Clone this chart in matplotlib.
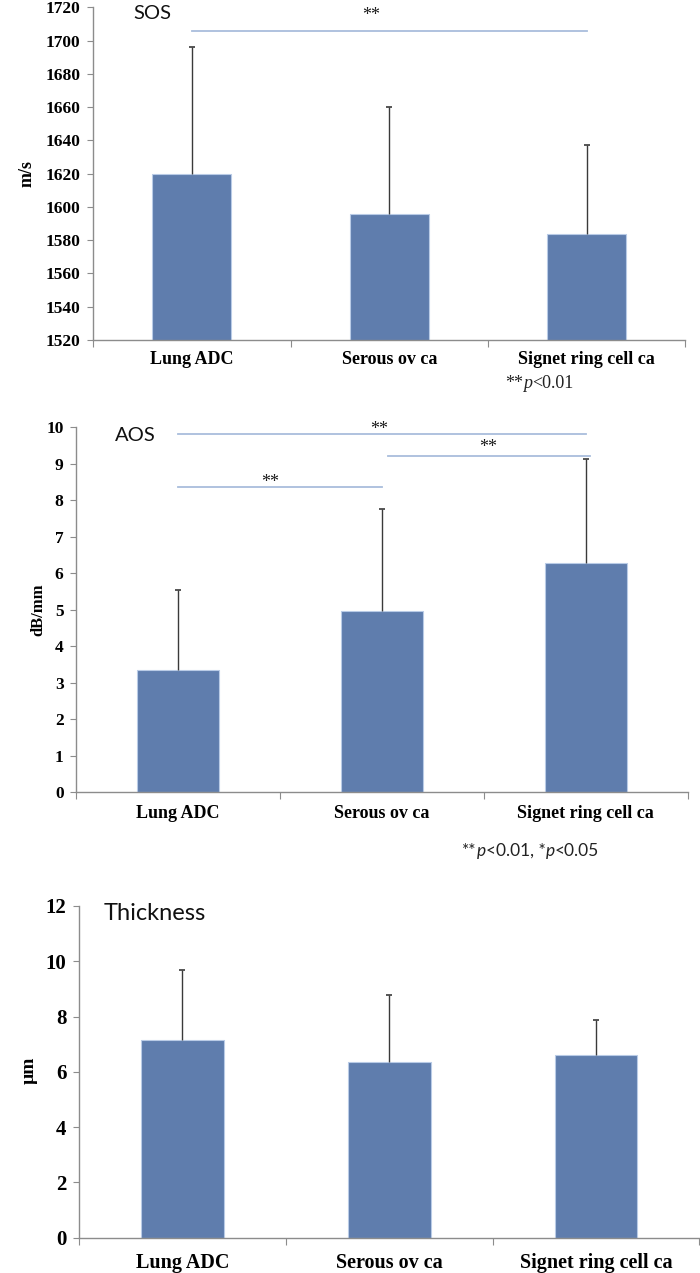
"""
Three stacked bar charts (SOS, AOS, Thickness) with one-sided SD error bars
and significance brackets.
"""

import matplotlib
matplotlib.use("Agg")
import matplotlib.pyplot as plt

CATEGORIES = ["Lung ADC", "Serous ov ca", "Signet ring cell ca"]

SOS_MEAN = [1620, 1596, 1584]
SOS_SD = [76, 64, 53]

AOS_MEAN = [3.35, 4.96, 6.27]
AOS_SD = [2.18, 2.80, 2.85]

THK_MEAN = [7.17, 6.35, 6.60]
THK_SD = [2.52, 2.44, 1.29]

# significance brackets: (from category, to category, level)
SOS_SIG = [(0, 2, 1706)]
AOS_SIG = [(0, 2, 9.81), (1.03, 2.02, 9.22), (0, 1.0, 8.37)]

BAR_COLOR = "#5f7dad"
BAR_EDGE = "#b9cbe6"
SIG_COLOR = "#a9bddc"
SPINE_COLOR = "#8c8c8c"
ERR_COLOR = "#3a3a3a"

SERIF = "Liberation Serif"
SANS = "Lato"


def style_axes(ax, ylim, yticks, tick_size, cat_size, cat_pad):
    ax.set_xlim(-0.5, 2.5)
    ax.set_ylim(*ylim)
    for s in ("top", "right"):
        ax.spines[s].set_visible(False)
    for s in ("left", "bottom"):
        ax.spines[s].set_color(SPINE_COLOR)
        ax.spines[s].set_linewidth(1.0)
    ax.set_yticks(yticks)
    ax.set_yticklabels([str(t) for t in yticks], fontfamily=SERIF,
                       fontweight="bold", fontsize=tick_size)
    ax.tick_params(axis="y", length=4, width=0.8, color=SPINE_COLOR, pad=5)
    # separators between categories, labels on minor ticks
    ax.set_xticks([-0.5, 0.5, 1.5, 2.5])
    ax.set_xticklabels([])
    ax.tick_params(axis="x", which="major", length=5, width=0.8,
                   color=SPINE_COLOR)
    ax.set_xticks([0, 1, 2], minor=True)
    ax.set_xticklabels(CATEGORIES, minor=True, fontfamily=SERIF,
                       fontweight="bold", fontsize=cat_size)
    ax.tick_params(axis="x", which="minor", length=0, pad=cat_pad)


def draw_bars(ax, means, sds):
    x = list(range(len(means)))
    tops = [m + s for m, s in zip(means, sds)]
    ax.bar(x, means, width=0.4, color=BAR_COLOR, edgecolor=BAR_EDGE,
           linewidth=0.8, zorder=2)
    # upper whisker only, cap at the top end
    ax.vlines(x, means, tops, color=ERR_COLOR, linewidth=1.0, zorder=3)
    ax.plot(x, tops, linestyle="none", marker="_", markersize=5,
            markeredgewidth=1.2, color=ERR_COLOR, zorder=3)


def draw_sig(ax, sigs):
    for x1, x2, y in sigs:
        ax.plot([x1, x2], [y, y], color=SIG_COLOR, linewidth=1.3,
                clip_on=False, zorder=1)


def chain_text(fig, ax, x, y, pieces, size, family):
    prev = None
    for s, style in pieces:
        kw = dict(fontsize=size, fontfamily=family, fontstyle=style,
                  color="#222222")
        if prev is None:
            prev = fig.text(x, y, s, va="baseline", **kw)
        else:
            prev = ax.annotate(s, xy=(1, 0), xycoords=prev, va="bottom",
                               annotation_clip=False, **kw)


def main():
    fig = plt.figure(figsize=(7, 12.73), dpi=100)

    # --- SOS ---
    ax1 = fig.add_axes([0.133, 0.7329, 0.846, 0.2614])
    style_axes(ax1, (1520, 1720), list(range(1520, 1721, 20)), 12.5, 13, 8)
    draw_bars(ax1, SOS_MEAN, SOS_SD)
    draw_sig(ax1, SOS_SIG)
    ax1.text(0.91, 1715, "**", ha="center", va="center", fontsize=13,
             fontfamily=SERIF, color="#1a1a1a")
    ax1.text(-0.2, 1716, "SOS", ha="center", va="center", fontsize=14.5,
             fontfamily=SANS, color="#111111", clip_on=False)
    ax1.text(-0.112, 0.5, "m/s", transform=ax1.transAxes, rotation=90,
             ha="center", va="center", fontsize=13, fontfamily=SERIF,
             fontweight="bold")

    # --- AOS ---
    ax2 = fig.add_axes([0.1086, 0.3776, 0.874, 0.2867])
    style_axes(ax2, (0, 10), list(range(0, 11)), 12.5, 13, 9)
    draw_bars(ax2, AOS_MEAN, AOS_SD)
    draw_sig(ax2, AOS_SIG)
    for sx, sy in [(0.986, 9.93), (1.52, 9.45), (0.45, 8.48)]:
        ax2.text(sx, sy, "**", ha="center", va="center", fontsize=13,
                 fontfamily=SERIF, color="#1a1a1a")
    ax2.text(-0.21, 9.79, "AOS", ha="center", va="center", fontsize=14.5,
             fontfamily=SANS, color="#111111", clip_on=False)
    ax2.text(-0.062, 0.5, "dB/mm", transform=ax2.transAxes, rotation=90,
             ha="center", va="center", fontsize=12, fontfamily=SERIF,
             fontweight="bold")

    # --- Thickness ---
    ax3 = fig.add_axes([0.113, 0.0277, 0.886, 0.2606])
    style_axes(ax3, (0, 12), list(range(0, 13, 2)), 15, 14.5, 11)
    draw_bars(ax3, THK_MEAN, THK_SD)
    ax3.text(-0.38, 11.73, "Thickness", ha="left", va="center", fontsize=17,
             fontfamily=SANS, color="#111111", clip_on=False)
    ax3.text(-0.081, 0.506, "µm", transform=ax3.transAxes, rotation=90,
             ha="center", va="center", fontsize=14, fontfamily=SERIF,
             fontweight="bold")

    # footnotes
    chain_text(fig, ax1, 0.721, 1 - 388 / 1273,
               [("**", "normal"), ("p", "italic"), ("<0.01", "normal")],
               13, SERIF)
    chain_text(fig, ax2, 0.66, 1 - 856 / 1273,
               [("**", "normal"), ("p", "italic"), ("<0.01, *", "normal"),
                ("p", "italic"), ("<0.05", "normal")],
               12.5, SANS)

    fig.savefig("out.png", dpi=100)


if __name__ == "__main__":
    main()
